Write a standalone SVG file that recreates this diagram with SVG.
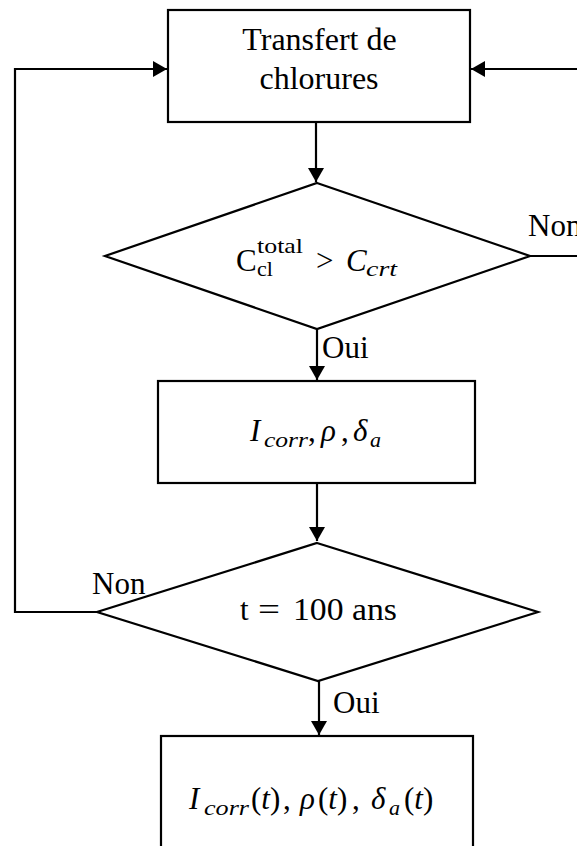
<svg xmlns="http://www.w3.org/2000/svg" width="577" height="846" viewBox="0 0 577 846">
<style>
.shape{fill:#fff;stroke:#000;stroke-width:2.2}
.line{fill:none;stroke:#000;stroke-width:2.2}
.t{font-family:"Liberation Serif","Times New Roman",serif;fill:#000}
.m{font-family:"Liberation Serif","Times New Roman",serif;fill:#000}
.i{font-style:italic}
</style>
<defs>
<marker id="ah" viewBox="0 0 14 16" refX="14" refY="8" markerWidth="14" markerHeight="16" markerUnits="userSpaceOnUse" orient="auto">
<path d="M0,0 L14,8 L0,16 Z" fill="#000"/>
</marker>
</defs>
<rect width="577" height="846" fill="#fff"/>
<g id="connectors">
<polyline class="line" points="97,612 15,612 15,69 167,69" marker-end="url(#ah)"/>
<polyline class="line" points="577,69 471,69" marker-end="url(#ah)"/>
<line class="line" x1="316" y1="122" x2="316" y2="182" marker-end="url(#ah)"/>
<polyline class="line" points="530,256 577,256"/>
<line class="line" x1="317" y1="329" x2="317" y2="380" marker-end="url(#ah)"/>
<line class="line" x1="317" y1="483" x2="317" y2="541" marker-end="url(#ah)"/>
<line class="line" x1="319" y1="681" x2="319" y2="735" marker-end="url(#ah)"/>
<text class="t" x="528" y="236" font-size="31">Non</text>
<text class="t" x="322" y="358" font-size="31">Oui</text>
<text class="t" x="92" y="594" font-size="31">Non</text>
<text class="t" x="333" y="713" font-size="31">Oui</text>
</g>
<g id="node-transfert">
<rect class="shape" x="168" y="10" width="302" height="112"/>
<text class="t" x="319.5" y="50" font-size="32" text-anchor="middle">Transfert de</text>
<text class="t" x="319" y="89" font-size="32" text-anchor="middle">chlorures</text>
</g>
<g id="node-test-chlorures">
<polygon class="shape" points="317,183 530,256 317,329 105,256"/>
<text class="m" x="236" y="271" font-size="31">C</text>
<text class="m" x="257" y="253" font-size="22" textLength="46" lengthAdjust="spacingAndGlyphs">total</text>
<text class="m" x="257" y="276" font-size="22">cl</text>
<text class="m" x="316" y="271" font-size="31">&gt;</text>
<text class="m i" x="346" y="271" font-size="31">C</text>
<text class="m i" x="366" y="276" font-size="22" textLength="31" lengthAdjust="spacingAndGlyphs">crt</text>
</g>
<g id="node-params">
<rect class="shape" x="158" y="381" width="317" height="102"/>
<text class="m i" x="250" y="441" font-size="31">I</text>
<text class="m i" x="264" y="447" font-size="22" textLength="44" lengthAdjust="spacingAndGlyphs">corr</text>
<text class="m" x="308" y="441" font-size="31">,</text>
<text class="m i" x="321" y="441" font-size="31">ρ</text>
<text class="m" x="341" y="441" font-size="31">,</text>
<text class="m i" x="353" y="441" font-size="31">δ</text>
<text class="m i" x="370" y="447" font-size="22">a</text>
</g>
<g id="node-test-temps">
<polygon class="shape" points="317,543 538,612 318,681 97,612"/>
<text class="m" x="240" y="620" font-size="31">t</text>
<text class="m" x="258" y="620" font-size="31" textLength="22" lengthAdjust="spacingAndGlyphs">=</text>
<text class="m" x="293" y="620" font-size="31" textLength="104" lengthAdjust="spacingAndGlyphs">100 ans</text>
</g>
<g id="node-resultats">
<rect class="shape" x="161" y="736" width="312" height="120"/>
<text class="m i" x="189" y="809" font-size="31">I</text>
<text class="m i" x="204" y="815" font-size="22" textLength="45" lengthAdjust="spacingAndGlyphs">corr</text>
<text class="m" x="251" y="809" font-size="31">(<tspan class="i">t</tspan>)</text>
<text class="m" x="283" y="809" font-size="31">,</text>
<text class="m i" x="300" y="809" font-size="31">ρ</text>
<text class="m" x="318" y="809" font-size="31">(<tspan class="i">t</tspan>)</text>
<text class="m" x="352" y="809" font-size="31">,</text>
<text class="m i" x="371" y="809" font-size="31">δ</text>
<text class="m i" x="389" y="815" font-size="22">a</text>
<text class="m" x="404" y="809" font-size="31">(<tspan class="i">t</tspan>)</text>
</g>
</svg>
